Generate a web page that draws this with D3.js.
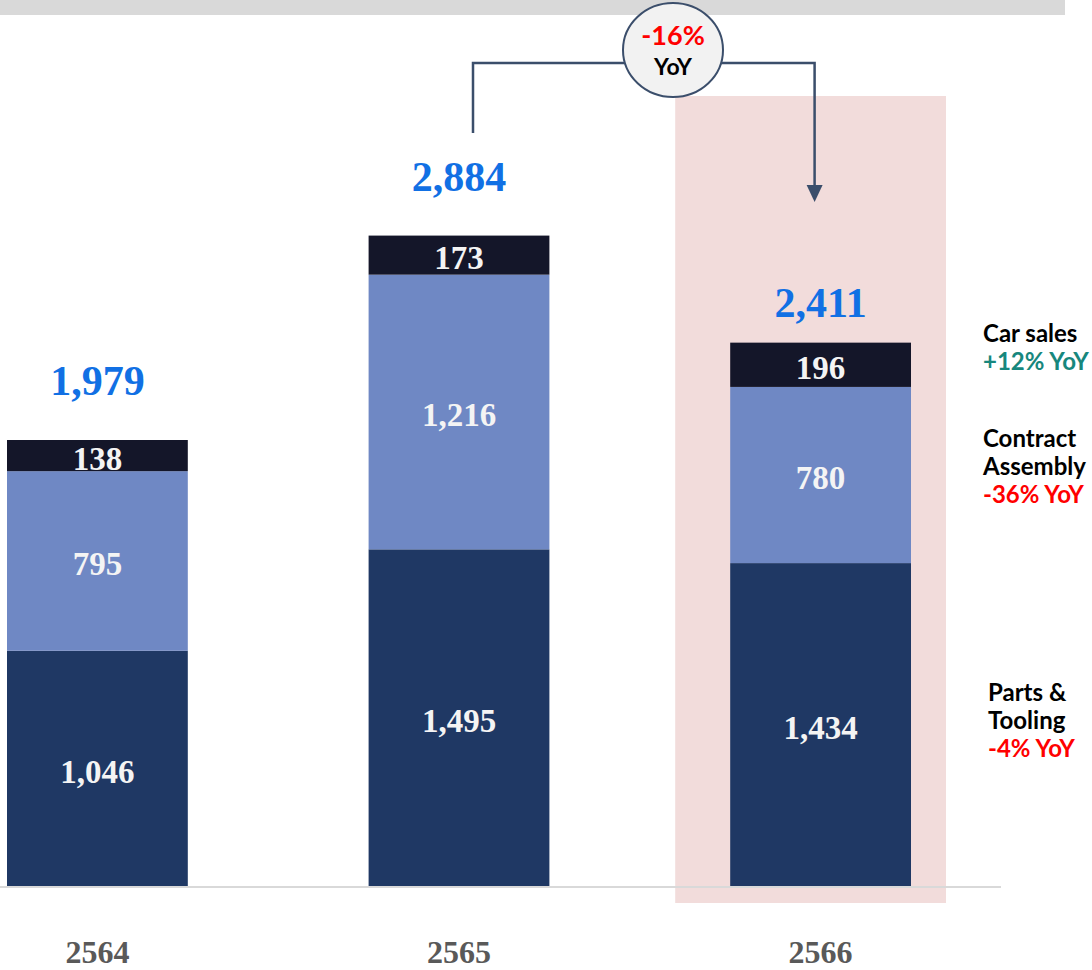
<!DOCTYPE html>
<html>
<head>
<meta charset="utf-8">
<style>
body { margin: 0; background: #fff; }
.num { font-family: "Liberation Serif", "Times New Roman", serif; font-weight: bold; }
.sans { font-family: Lato, "Open Sans", sans-serif; font-weight: bold; }
</style>
</head>
<body>
<svg width="1092" height="970"></svg>
<script src="https://d3js.org/d3.v7.min.js"></script>
<script>
// data
var years = ["2564", "2565", "2566"];
var parts = [1046, 1495, 1434];      // Parts & Tooling
var contract = [795, 1216, 780];     // Contract Assembly
var carSales = [138, 173, 196];      // Car sales
var totals = [1979, 2884, 2411];
var legendNames = [["Car sales"], ["Contract", "Assembly"], ["Parts &", "Tooling"]];
var legendYoY = ["+12% YoY", "-36% YoY", "-4% YoY"];
var overallYoY = "-16%";

var svg = d3.select("svg");
var fmt = d3.format(",");

// gray strip across the top
svg.append("rect").attr("x", 0).attr("y", 0).attr("width", 1065).attr("height", 15).attr("fill", "#d9d9d9");

var x = d3.scaleBand().domain(years).range([7, 911]).paddingInner(0.5).paddingOuter(0);
var y = d3.scaleLinear().domain([0, 1979]).range([887, 440]);

// highlight behind the last year
svg.append("rect")
  .attr("x", x("2566") - 55).attr("y", 96)
  .attr("width", x.bandwidth() + 90).attr("height", 807)
  .attr("fill", "#f2dcdb");

var rows = years.map(function(d, i) {
  return { year: d, parts: parts[i], contract: contract[i], car: carSales[i] };
});
var keys = ["parts", "contract", "car"];
var colors = { parts: "#1f3864", contract: "#6f88c4", car: "#141629" };
var stacked = d3.stack().keys(keys)(rows);

var layer = svg.selectAll("g.layer").data(stacked).enter().append("g")
  .attr("class", "layer").attr("fill", function(d) { return colors[d.key]; });

layer.selectAll("rect").data(function(d) { return d; }).enter().append("rect")
  .attr("x", function(d) { return x(d.data.year); })
  .attr("y", function(d) { return y(d[1]); })
  .attr("width", x.bandwidth())
  .attr("height", function(d) { return y(d[0]) - y(d[1]); });

layer.selectAll("text").data(function(d) { return d; }).enter().append("text")
  .attr("class", "num")
  .attr("x", function(d) { return x(d.data.year) + x.bandwidth() / 2; })
  .attr("y", function(d) { return (y(d[0]) + y(d[1])) / 2 + 14; })
  .attr("text-anchor", "middle")
  .attr("font-size", 33)
  .attr("fill", "#f4f4f4")
  .text(function(d) { return fmt(d[1] - d[0]); });

// axis line
svg.append("line").attr("x1", 0).attr("x2", 1001).attr("y1", 887).attr("y2", 887)
  .attr("stroke", "#d9d9d9").attr("stroke-width", 2);

// totals
var totalGap = [45, 45, 25];
svg.selectAll("text.total").data(totals).enter().append("text")
  .attr("class", "num total")
  .attr("x", function(d, i) { return x(years[i]) + x.bandwidth() / 2; })
  .attr("y", function(d, i) { return y(d) - totalGap[i]; })
  .attr("text-anchor", "middle")
  .attr("font-size", 42)
  .attr("fill", "#1170e4")
  .text(function(d) { return fmt(d); });

// year labels
svg.selectAll("text.year").data(years).enter().append("text")
  .attr("class", "num year")
  .attr("x", function(d) { return x(d) + x.bandwidth() / 2; })
  .attr("y", 963)
  .attr("text-anchor", "middle")
  .attr("font-size", 32)
  .attr("fill", "#595959")
  .text(function(d) { return d; });

// YoY connector
var lx = x("2565") + x.bandwidth() / 2 + 14;
var rx = x("2566") + x.bandwidth() / 2 - 6;
var cy = 63;
svg.append("path")
  .attr("d", "M" + lx + "," + 133 + "V" + cy + "H" + rx + "V" + 186)
  .attr("fill", "none").attr("stroke", "#3b4e6b").attr("stroke-width", 2.5);
svg.append("path")
  .attr("d", "M" + (rx - 8) + ",185L" + (rx + 8) + ",185L" + rx + ",202Z")
  .attr("fill", "#3b4e6b");
svg.append("ellipse")
  .attr("cx", 673).attr("cy", 50).attr("rx", 50).attr("ry", 47)
  .attr("fill", "#f2f2f2").attr("stroke", "#3b4e6b").attr("stroke-width", 2);
svg.append("text").attr("class", "sans")
  .attr("x", 673).attr("y", 45).attr("text-anchor", "middle")
  .attr("font-size", 27).attr("fill", "#ff0000").text(overallYoY);
svg.append("text").attr("class", "sans")
  .attr("x", 673).attr("y", 75).attr("text-anchor", "middle")
  .attr("font-size", 23).attr("fill", "#000").text("YoY");

// legend on the right
var legendX = [983, 983, 988];
var legendY = [342, 447, 701];
var yoyColor = ["#17877d", "#ff0000", "#ff0000"];
legendNames.forEach(function(lines, i) {
  var t = svg.append("text").attr("class", "sans").attr("font-size", 24);
  lines.forEach(function(s, j) {
    t.append("tspan").attr("x", legendX[i]).attr("y", legendY[i] + j * 28).attr("fill", "#000").text(s);
  });
  t.append("tspan").attr("x", legendX[i]).attr("y", legendY[i] + lines.length * 28)
    .attr("fill", yoyColor[i]).text(legendYoY[i]);
});
</script>
</body>
</html>
